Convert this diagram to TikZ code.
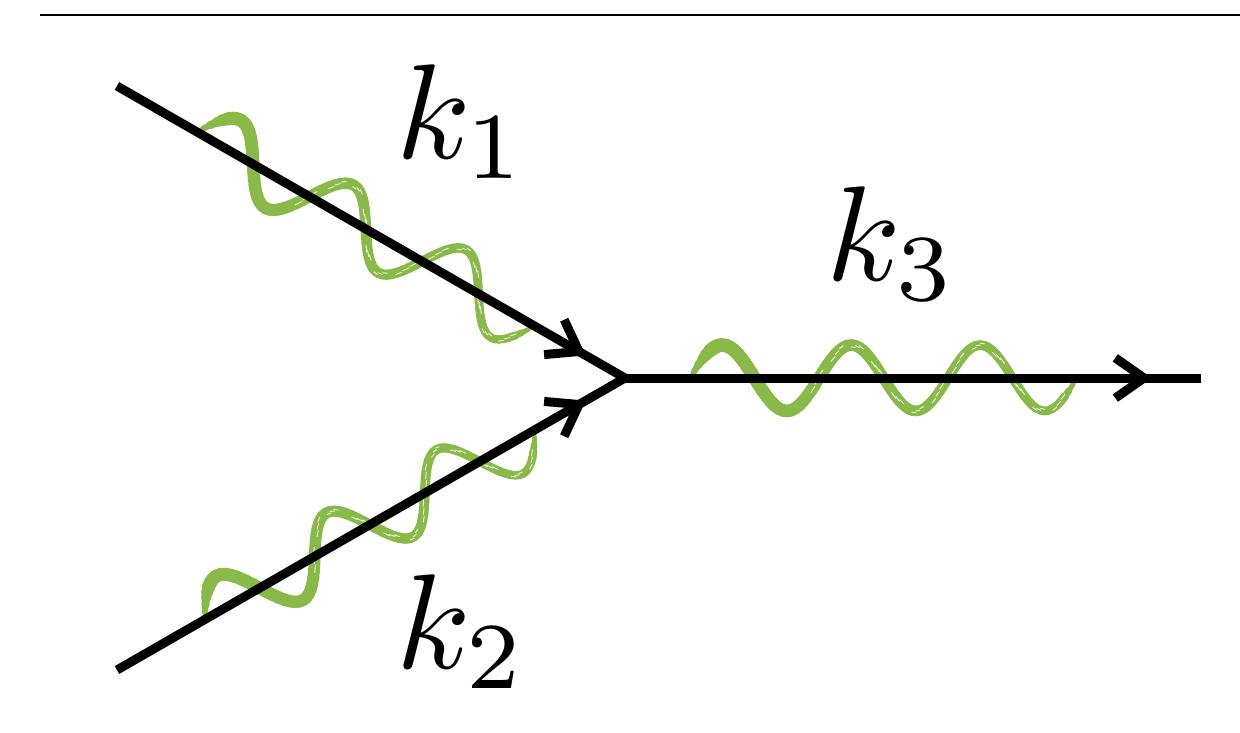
\documentclass[tikz,border=0pt]{standalone}
\usetikzlibrary{calc}
\definecolor{wavegreen}{RGB}{137,185,72}
\tikzset{
  fermion/.style={line width=9pt, black, line join=miter, line cap=butt},
  chevron/.style={line width=9pt, black, line join=miter, line cap=butt},
  wavestroke/.style={wavegreen, line cap=round},
  streak/.style={white, line width=0.9pt, line cap=round, opacity=0.85},
  rulestyle/.style={line width=2pt, black},
  lbl/.style={scale=13.5, inner sep=0pt, anchor=base}
}
% #1,#2 start; #3,#4 unit direction; #5 wavelength; #6 length; #7 amplitude; #8 max width
\newcommand\drawwave[8]{%
  \foreach \i in {0,...,95}{%
    \pgfmathsetmacro\ta{\i/96}%
    \pgfmathsetmacro\tb{(\i+1)/96}%
    \pgfmathsetmacro\ua{\ta*#6}%
    \pgfmathsetmacro\ub{\tb*#6}%
    \pgfmathsetmacro\va{#7*sin(360/#5*\ua)}%
    \pgfmathsetmacro\vb{#7*sin(360/#5*\ub)}%
    \pgfmathsetmacro\w{#8*(1-0.42*\ta)*min(1,0.3+\ta/0.07)*min(1,0.2+(1-\ta)/0.05)}%
    \draw[wavestroke, line width=\w pt]
      ({#1+\ua*(#3)+\va*(#4)}, {#2+\ua*(#4)-\va*(#3)}) --
      ({#1+\ub*(#3)+\vb*(#4)}, {#2+\ub*(#4)-\vb*(#3)});
  }%
  \foreach \i in {30,...,92}{%
    \pgfmathtruncatemacro\m{mod(\i,5)}%
    \ifnum\m<3
      \pgfmathsetmacro\ta{\i/96}%
      \pgfmathsetmacro\tb{(\i+1)/96}%
      \pgfmathsetmacro\ua{\ta*#6}%
      \pgfmathsetmacro\ub{\tb*#6}%
      \pgfmathsetmacro\off{(\m-1)*1.8}%
      \pgfmathsetmacro\va{#7*sin(360/#5*\ua)+\off}%
      \pgfmathsetmacro\vb{#7*sin(360/#5*\ub)+\off}%
      \draw[streak]
        ({#1+\ua*(#3)+\va*(#4)}, {#2+\ua*(#4)-\va*(#3)}) --
        ({#1+\ub*(#3)+\vb*(#4)}, {#2+\ub*(#4)-\vb*(#3)});
    \fi
  }%
}
\newcommand\drawchevron[2]{%
  \begin{scope}[shift={(#1)}, rotate=#2]
    \draw[chevron] (-28.7,20.1) -- (0,0) -- (-28.7,-20.1);
  \end{scope}%
}
\begin{document}
\begin{tikzpicture}[x=1pt, y=-1pt]
  \useasboundingbox (0,0) rectangle (1240,732);
  % top rule
  \coordinate (r1) at (40,15);
  \coordinate (r2) at (1240,15);
  \draw[rulestyle] (r1) -- (r2);
  % waves (behind lines)
  \drawwave{196.8}{131.8}{0.867}{0.498}{130}{390}{32}{13.5}
  \drawwave{204.6}{619.7}{0.867}{-0.498}{127}{381}{32}{13.5}
  \drawwave{690}{378}{1}{0}{129}{387}{33}{14}
  % fermion lines
  \coordinate (a1) at (117,86);
  \coordinate (a2) at (117,670);
  \coordinate (v) at (625,378);
  \coordinate (out) at (1201,378);
  \draw[fermion] (a1) -- (v) -- (a2);
  \draw[fermion] (v) -- (out);
  % arrowheads
  \coordinate (h1) at (579,351.5);
  \coordinate (h2) at (579,404.5);
  \coordinate (h3) at (1144,378);
  \drawchevron{h1}{-30}
  \drawchevron{h2}{30}
  \drawchevron{h3}{0}
  % labels
  \node[lbl] (k1) at (462,158) {$k_1$};
  \node[lbl] (k2) at (462,668) {$k_2$};
  \node[lbl] (k3) at (892,280) {$k_3$};
\end{tikzpicture}
\end{document}
